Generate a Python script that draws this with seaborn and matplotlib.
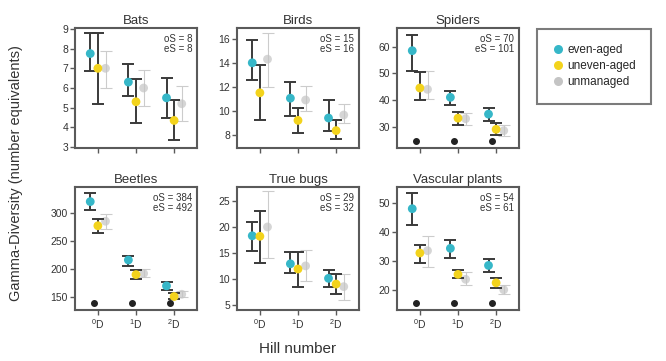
import numpy as np
import pandas as pd
import matplotlib
matplotlib.use("Agg")
import matplotlib.pyplot as plt
import matplotlib.transforms as mtransforms
from matplotlib.lines import Line2D
import seaborn as sns

# ---- data -------------------------------------------------------------
taxa = ["Bats", "Birds", "Spiders", "Beetles", "True bugs", "Vascular plants"]
hill_labels = [r"$^{0}$D", r"$^{1}$D", r"$^{2}$D"]
managements = ["even-aged", "uneven-aged", "unmanaged"]

# rows: even-aged, uneven-aged, unmanaged ; columns: 0D, 1D, 2D
bats_est = [[7.75, 6.3, 5.5], [7.0, 5.3, 4.35], [7.0, 6.0, 5.2]]
bats_lo = [[6.85, 5.6, 4.5], [5.2, 4.2, 3.35], [6.0, 5.1, 4.3]]
bats_hi = [[8.8, 7.2, 6.5], [8.8, 6.45, 5.4], [7.9, 6.9, 6.1]]

birds_est = [[14.0, 11.05, 9.4], [11.5, 9.2, 8.35], [14.3, 10.9, 9.65]]
birds_lo = [[12.6, 9.6, 8.3], [9.2, 8.15, 7.65], [12.0, 10.0, 9.0]]
birds_hi = [[15.9, 12.4, 10.9], [13.8, 10.2, 9.25], [16.5, 12.1, 10.6]]

spiders_est = [[58.5, 41.0, 34.7], [44.5, 33.2, 29.0], [44.0, 33.0, 28.5]]
spiders_lo = [[51.0, 38.2, 32.0], [40.0, 30.8, 27.0], [40.5, 30.5, 26.5]]
spiders_hi = [[64.5, 43.5, 37.0], [50.4, 35.4, 31.2], [51.0, 35.0, 30.5]]

beetles_est = [[320, 216, 170], [277, 190, 151], [285, 192, 155]]
beetles_lo = [[305, 206, 162], [264, 182, 146], [272, 185, 150]]
beetles_hi = [[335, 224, 177], [289, 199, 157], [298, 200, 160]]

bugs_est = [[18.3, 12.9, 10.1], [18.2, 11.9, 9.0], [20.0, 12.5, 8.5]]
bugs_lo = [[15.4, 11.1, 8.4], [13.0, 8.4, 7.1], [14.0, 9.5, 6.0]]
bugs_hi = [[20.9, 15.1, 11.8], [23.0, 15.1, 11.0], [27.0, 15.5, 11.0]]

plants_est = [[48.0, 34.3, 28.4], [32.7, 25.3, 22.4], [33.5, 23.6, 20.0]]
plants_lo = [[42.5, 31.0, 26.3], [29.2, 24.0, 20.6], [27.8, 21.5, 18.5]]
plants_hi = [[53.3, 37.3, 30.6], [35.5, 26.7, 24.0], [38.6, 26.0, 21.5]]

observed_S = [8, 15, 70, 384, 29, 54]
estimated_S = [8, 16, 101, 492, 32, 61]

# significant differences between management types (per Hill number)
significant = [
    [False, False, False],
    [False, False, False],
    [True, True, True],
    [True, True, True],
    [False, False, False],
    [True, True, True],
]

y_ticks = [
    [3, 4, 5, 6, 7, 8, 9],
    [8, 10, 12, 14, 16],
    [30, 40, 50, 60],
    [150, 200, 250, 300],
    [5, 10, 15, 20, 25],
    [20, 30, 40, 50],
]
y_limits = [(2.95, 9.05), (6.9, 16.9), (22, 67), (127, 346), (4.0, 27.7), (13, 55.5)]

estimates = [bats_est, birds_est, spiders_est, beetles_est, bugs_est, plants_est]
lowers = [bats_lo, birds_lo, spiders_lo, beetles_lo, bugs_lo, plants_lo]
uppers = [bats_hi, birds_hi, spiders_hi, beetles_hi, bugs_hi, plants_hi]

# ---- long table -------------------------------------------------------
rows = []
for t, taxon in enumerate(taxa):
    for m, mg in enumerate(managements):
        for h in range(3):
            rows.append(dict(taxon=taxon, management=mg, hill=h,
                             est=estimates[t][m][h], lo=lowers[t][m][h],
                             hi=uppers[t][m][h]))
df = pd.DataFrame(rows)

# ---- style ------------------------------------------------------------
sns.set_theme(style="ticks")
plt.rcParams["font.family"] = ["Liberation Sans", "DejaVu Sans"]
plt.rcParams["mathtext.fontset"] = "custom"
plt.rcParams["mathtext.rm"] = "Liberation Sans"
plt.rcParams["mathtext.it"] = "Liberation Sans"

palette = {"even-aged": "#36b7c8", "uneven-aged": "#f3d31c", "unmanaged": "#c4c4c4"}
bar_colors = {"even-aged": "#3a3a3a", "uneven-aged": "#3a3a3a", "unmanaged": "#cccccc"}
offsets = {"even-aged": -0.2, "uneven-aged": 0.0, "unmanaged": 0.2}
draw_order = ["unmanaged", "even-aged", "uneven-aged"]
frame_color = "#5a5a5a"
text_color = "#333333"

fig = plt.figure(figsize=(6.66, 3.61), dpi=100)
W, H = 666, 361
lefts = [75, 237, 397]
tops = [28, 187]
heights = [120, 123]
width = 122

for t, taxon in enumerate(taxa):
    r, c = divmod(t, 3)
    ax = fig.add_axes([lefts[c] / W, 1 - (tops[r] + heights[r]) / H,
                       width / W, heights[r] / H])
    sub = df[df.taxon == taxon].copy()
    sub["xpos"] = sub["hill"] + sub["management"].map(offsets)

    for mg in draw_order:
        s = sub[sub.management == mg]
        light = mg == "unmanaged"
        ax.errorbar(s["xpos"], s["est"],
                    yerr=[s["est"] - s["lo"], s["hi"] - s["est"]],
                    fmt="none", ecolor=bar_colors[mg],
                    elinewidth=0.8 if light else 1.4,
                    capsize=4, capthick=0.8 if light else 1.4,
                    zorder=2 if light else 3)
        sns.scatterplot(data=s, x="xpos", y="est", color=palette[mg],
                        s=40, edgecolor="none", ax=ax, legend=False,
                        alpha=0.7 if light else 1.0,
                        zorder=2.5 if light else 4)

    # significance markers along the bottom
    trans = mtransforms.blended_transform_factory(ax.transData, ax.transAxes)
    for h in range(3):
        if significant[t][h]:
            ax.plot(h - 0.1, 0.055, "o", color="#222222", ms=4,
                    transform=trans, clip_on=False, zorder=5)

    ax.set_xlim(-0.6, 2.6)
    ax.set_ylim(*y_limits[t])
    ax.set_yticks(y_ticks[t])
    ax.set_xticks([0, 1, 2])
    if r == 1:
        ax.set_xticklabels(hill_labels, fontsize=11)
    else:
        ax.set_xticklabels([])
    ax.set_xlabel("")
    ax.set_ylabel("")
    ax.set_title(taxon, fontsize=9.5, pad=3, color=text_color)
    ax.tick_params(axis="both", length=3.5, width=1.0, color=frame_color,
                   labelsize=7.5, pad=1.5, labelcolor=text_color)
    for sp in ax.spines.values():
        sp.set_visible(True)
        sp.set_color(frame_color)
        sp.set_linewidth(1.5)
    ax.text(0.96, 0.95, f"oS = {observed_S[t]}\neS = {estimated_S[t]}",
            transform=ax.transAxes, ha="right", va="top", fontsize=7,
            linespacing=1.0, color=text_color)

fig.text(298 / W, 1 - 349 / H, "Hill number", ha="center", va="center",
         fontsize=11, color=text_color)
fig.text(16 / W, 0.52, "Gamma-Diversity (number equivalents)", rotation=90,
         ha="center", va="center", fontsize=10.5, color=text_color)

handles = [Line2D([0], [0], marker="o", linestyle="none", markersize=6.5,
                  markerfacecolor=palette[mg], markeredgecolor="none",
                  label=mg) for mg in managements]
leg = fig.legend(handles=handles, loc="upper left",
                 bbox_to_anchor=(533 / W, 1 - 25 / H), frameon=True,
                 fontsize=8.5, handletextpad=0.3, borderpad=1.3,
                 labelspacing=0.35, handlelength=1.0, fancybox=False,
                 borderaxespad=0.3)
leg.get_frame().set_edgecolor(frame_color)
leg.get_frame().set_linewidth(1.5)

fig.savefig("out.png", dpi=100, facecolor="white")
